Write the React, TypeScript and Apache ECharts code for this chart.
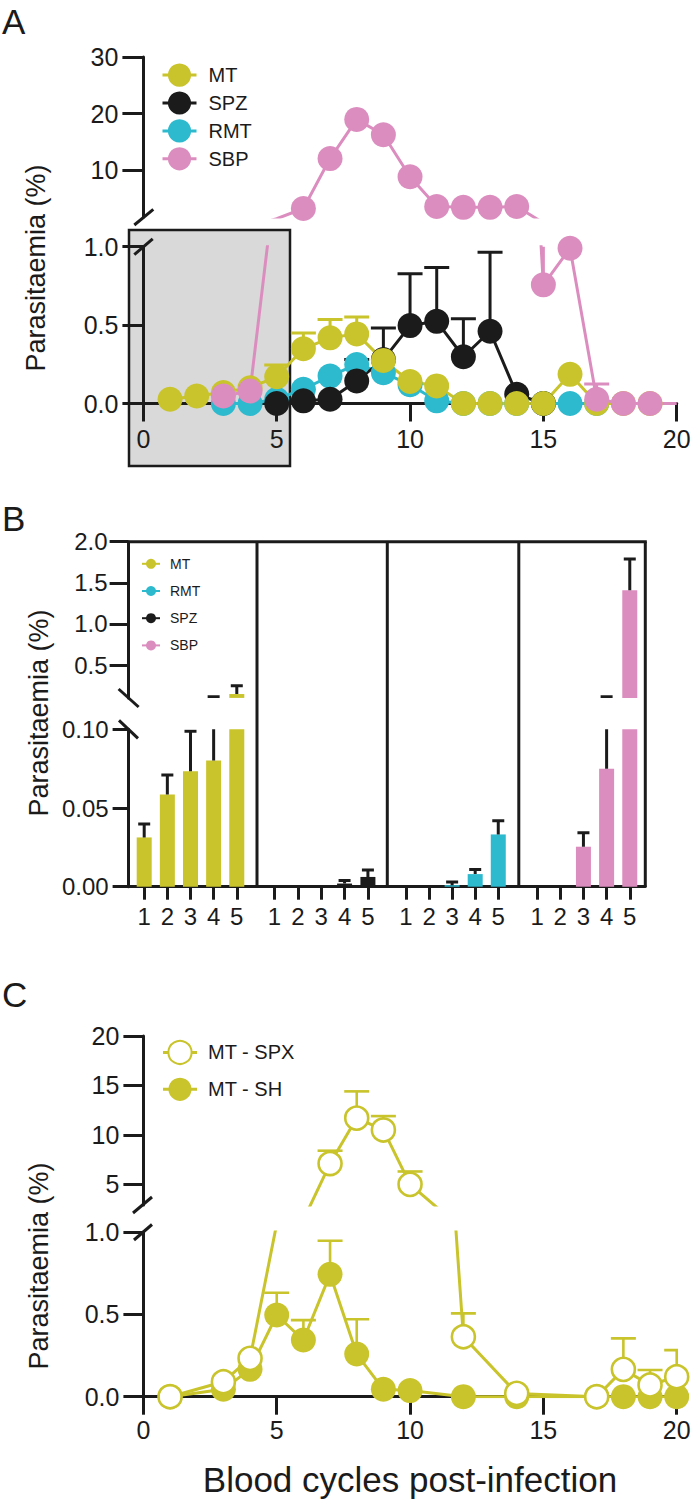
import React, { useEffect, useRef } from "react";
import * as echarts from "echarts";

// ---------------- Data ----------------
// Panel A: parasitaemia (%) per blood cycle post-infection
const A_DAYS = [1, 2, 3, 4, 5, 6, 7, 8, 9, 10, 11, 12, 13, 14, 15, 16, 17, 18, 19, 20];
const A_MT = [0.027, 0.048, 0.07, 0.1, 0.171, 0.349, 0.419, 0.444, 0.275, 0.14, 0.112, 0, 0, 0, 0, 0.186, 0, 0, 0, null];
const A_MT_UP = [null, null, null, null, 0.245, 0.45, 0.535, 0.552, null, null, null, null, null, null, null, null, null, null, null, null];
const A_SPZ = [null, null, null, null, 0, 0.017, 0.027, 0.144, 0.28, 0.497, 0.524, 0.298, 0.461, 0.059, 0, null, null, null, null, null];
const A_SPZ_UP = [null, null, null, null, null, null, null, 0.28, 0.482, 0.827, 0.867, 0.541, 0.964, null, null, null, null, null, null, null];
const A_RMT = [null, null, 0, 0, 0.027, 0.091, 0.175, 0.249, 0.196, 0.12, 0.017, 0, 0, 0, 0, 0, 0, null, null, null];
const A_RMT_UP = [null, null, null, null, null, null, null, null, null, null, null, null, null, null, null, null, null, null, null, null];
const A_SBP = [null, null, 0.048, 0.08, 1.5, 3.3, 12.1, 19.0, 16.3, 8.9, 3.65, 3.5, 3.5, 3.65, 0.757, 0.99, 0.027, 0, 0, 0];
const A_SBP_UP = [null, null, null, null, null, null, null, null, null, null, null, null, null, null, 1.4, null, 0.124, null, null, null];

// Panel B: parasitaemia (%) in blood cycles 1-5
const B_CYCLES = [1, 2, 3, 4, 5];
const B_MT = [0.0313, 0.0586, 0.0734, 0.0802, 0.147];
const B_MT_UP = [0.0398, 0.0709, 0.0988, 0.114, 0.248];
const B_SPZ = [0, 0, 0, 0.002, 0.0062];
const B_SPZ_UP = [null, null, null, 0.004, 0.0106];
const B_RMT = [0, 0, 0.001, 0.008, 0.0332];
const B_RMT_UP = [null, null, 0.003, 0.011, 0.0419];
const B_SBP = [0, 0, 0.0254, 0.075, 1.41];
const B_SBP_UP = [null, null, 0.0343, 0.114, 1.79];

// Panel C
const C_SPX_DAYS = [1, 3, 4, 5, 6, 7, 8, 9, 10, 12, 14, 17, 18, 19, 20];
const C_SPX = [0, 0.091, 0.233, 1.05, 1.4, 7.1, 11.7, 10.5, 5.0, 0.364, 0.02, 0, 0.166, 0.071, 0.121];
const C_SPX_UP = [null, null, null, null, null, 8.4, 14.4, 11.9, 6.3, 0.506, null, null, 0.354, 0.162, 0.283];
const C_SH_DAYS = [1, 3, 4, 5, 6, 7, 8, 9, 10, 12, 14, 17, 18, 19, 20];
const C_SH = [0, 0.045, 0.166, 0.496, 0.344, 0.743, 0.259, 0.045, 0.037, 0, 0, 0, 0, 0, 0];
const C_SH_UP = [null, null, null, 0.631, 0.465, 0.947, 0.47, null, null, null, null, null, null, null, null];

// Tick values
const A_TOP_TICKS = [10, 20, 30];
const A_BOT_TICKS = [0, 0.5, 1.0];
const A_X_TICKS = [0, 5, 10, 15, 20];
const B_TOP_TICKS = [0.5, 1.0, 1.5, 2.0];
const B_BOT_TICKS = [0, 0.05, 0.1];
const C_TOP_TICKS = [5, 10, 15, 20];
const C_BOT_TICKS = [0, 0.5, 1.0];
const C_X_TICKS = [0, 5, 10, 15, 20];

// ---------------- Style / layout ----------------
const FONT = "'Liberation Sans', Helvetica, Arial, sans-serif";
const NARROW = "'Liberation Sans Narrow', 'Liberation Sans', Arial, sans-serif";
const INK = "#1b1b1b";
const COL_MT = "#c9c42b";
const COL_SPZ = "#1b1b1b";
const COL_RMT = "#2db9ce";
const COL_SBP = "#dc8dbf";

const PX0 = 143.4;
const PX1 = 676.7;
const B_EDGES = [128.6, 257, 387.3, 518.8, 645.3];
const B_XRANGE = [[0.326, 5.873], [0.25, 5.83], [0.19, 5.89], [0.21, 5.67]];

function pairs(xs: number[], ys: (number | null)[]) {
  const out: any[] = [];
  xs.forEach((x, i) => {
    const y = ys[i];
    if (y !== null && y !== undefined) out.push([x, y]);
  });
  return out;
}
function triples(xs: number[], ys: (number | null)[], ups: (number | null)[], minUp = -Infinity) {
  const out: any[] = [];
  xs.forEach((x, i) => {
    const y = ys[i];
    const u = ups[i];
    if (y !== null && y !== undefined && u !== null && u !== undefined && u >= minUp) out.push([x, y, u]);
  });
  return out;
}

function errSeries(gi: number, data: any[], color: string, cap: number, lw: number, z: number) {
  return {
    type: "custom",
    xAxisIndex: gi,
    yAxisIndex: gi,
    clip: true,
    silent: true,
    z,
    data,
    encode: { x: 0, y: [1, 2] },
    renderItem: (_p: any, api: any) => {
      const x = api.value(0);
      const v = api.value(1);
      const u = api.value(2);
      const p0 = api.coord([x, v]);
      const p1 = api.coord([x, u]);
      return {
        type: "group",
        children: [
          { type: "line", shape: { x1: p0[0], y1: p0[1], x2: p1[0], y2: p1[1] }, style: { stroke: color, lineWidth: lw } },
          { type: "line", shape: { x1: p1[0] - cap / 2, y1: p1[1], x2: p1[0] + cap / 2, y2: p1[1] }, style: { stroke: color, lineWidth: lw } },
        ],
      };
    },
  };
}

function lineSeries(name: string, gi: number, data: any[], color: string, extra: any = {}) {
  return {
    type: "line",
    name,
    xAxisIndex: gi,
    yAxisIndex: gi,
    data,
    symbol: "circle",
    symbolSize: 25,
    showAllSymbol: true,
    clip: true,
    z: 3,
    silent: true,
    itemStyle: { color },
    lineStyle: { color, width: 3 },
    emphasis: { disabled: true },
    ...extra,
  };
}

const lbl = (size: number) => ({ fontSize: size, fontFamily: FONT, color: INK });

function yAxisVis(gi: number, min: number, max: number, ticks: number[], digits: number, size: number, margin: number, tickLen: number) {
  return {
    type: "value",
    gridIndex: gi,
    min,
    max,
    axisLine: { show: true, onZero: false, lineStyle: { color: INK, width: 3 } },
    axisTick: { show: true, length: tickLen, customValues: ticks, lineStyle: { color: INK, width: 3 } },
    axisLabel: { show: true, customValues: ticks, margin, formatter: (v: number) => Number(v).toFixed(digits), ...lbl(size) },
    splitLine: { show: false },
  };
}
function xAxisVis(gi: number, min: number, max: number, ticks: number[], size: number, margin: number, tickLen: number) {
  return {
    type: "value",
    gridIndex: gi,
    min,
    max,
    axisLine: { show: true, onZero: false, lineStyle: { color: INK, width: 3 } },
    axisTick: { show: true, length: tickLen, customValues: ticks, lineStyle: { color: INK, width: 3 } },
    axisLabel: { show: true, customValues: ticks, margin, formatter: (v: number) => String(Math.round(v)), ...lbl(size) },
    splitLine: { show: false },
  };
}
function axisHidden(gi: number, min: number, max: number) {
  return { type: "value", gridIndex: gi, min, max, show: false, splitLine: { show: false } };
}

function buildOption() {
  const grid: any[] = [];
  const xAxis: any[] = [];
  const yAxis: any[] = [];
  const series: any[] = [];
  const g = (left: number, top: number, width: number, height: number) => ({ left, top, width, height, containLabel: false, outerBoundsMode: "none" });

  const A_TOP_MIN = 1.8;
  const B_TOP_MIN = 0.1;
  const C_TOP_MIN = 2.9;

  // ---- Panel A grids (0 top, 1 bottom)
  grid.push(g(PX0, 57, PX1 - PX0, 160));
  xAxis.push(axisHidden(0, 0, 20));
  yAxis.push(yAxisVis(0, A_TOP_MIN, 30, A_TOP_TICKS, 0, 25, 25, 21));
  grid.push(g(PX0, 246.7, PX1 - PX0, 156.8));
  xAxis.push(xAxisVis(1, 0, 20, A_X_TICKS, 25, 22.5, 18));
  yAxis.push(yAxisVis(1, 0, 1, A_BOT_TICKS, 1, 25, 25, 21));

  // ---- Panel B grids (2-5 top, 6-9 bottom)
  for (let i = 0; i < 4; i++) {
    grid.push(g(B_EDGES[i], 541.7, B_EDGES[i + 1] - B_EDGES[i], 156.2));
    xAxis.push(axisHidden(2 + i, B_XRANGE[i][0], B_XRANGE[i][1]));
    yAxis.push(i === 0 ? yAxisVis(2, B_TOP_MIN, 2.0, B_TOP_TICKS, 1, 24, 21, 19) : axisHidden(2 + i, B_TOP_MIN, 2.0));
  }
  for (let i = 0; i < 4; i++) {
    grid.push(g(B_EDGES[i], 729.3, B_EDGES[i + 1] - B_EDGES[i], 157.4));
    xAxis.push(xAxisVis(6 + i, B_XRANGE[i][0], B_XRANGE[i][1], B_CYCLES, 24, 18, 13));
    yAxis.push(i === 0 ? yAxisVis(6, 0, 0.1, B_BOT_TICKS, 2, 24, 20, 16) : axisHidden(6 + i, 0, 0.1));
  }

  // ---- Panel C grids (10 top, 11 bottom)
  grid.push(g(PX0, 1036, PX1 - PX0, 169.1));
  xAxis.push(axisHidden(10, 0, 20));
  yAxis.push(yAxisVis(10, C_TOP_MIN, 20, C_TOP_TICKS, 0, 25, 24, 20));
  grid.push(g(PX0, 1232, PX1 - PX0, 164.7));
  xAxis.push(xAxisVis(11, 0, 20, C_X_TICKS, 25, 21, 18));
  yAxis.push(yAxisVis(11, 0, 1, C_BOT_TICKS, 1, 25, 24, 20));

  // ---- Panel A series (draw order RMT, SPZ, MT, SBP)
  const aSets = [
    { name: "RMT", v: A_RMT, up: A_RMT_UP, c: COL_RMT },
    { name: "SPZ", v: A_SPZ, up: A_SPZ_UP, c: COL_SPZ },
    { name: "MT", v: A_MT, up: A_MT_UP, c: COL_MT },
    { name: "SBP", v: A_SBP, up: A_SBP_UP, c: COL_SBP },
  ];
  for (const gi of [0, 1]) {
    for (const s of aSets) {
      let data = pairs(A_DAYS, s.v);
      if (s.name === "SBP") {
        data = data.map((d: number[]) => (d[0] === 20 ? { value: d, symbol: "none" } : d));
      }
      series.push(lineSeries(s.name, gi, data, s.c));
    }
  }
  for (const gi of [0, 1]) {
    for (const s of aSets) {
      const e = triples(A_DAYS, s.v, s.up, gi === 0 ? A_TOP_MIN : -Infinity);
      if (e.length) series.push(errSeries(gi, e, s.c, 25, 3, 2));
    }
  }

  // ---- Panel C series
  for (const gi of [10, 11]) {
    const minUp = gi === 10 ? C_TOP_MIN : -Infinity;
    series.push(lineSeries("MT - SH", gi, pairs(C_SH_DAYS, C_SH), COL_MT));
    series.push(
      lineSeries("MT - SPX", gi, pairs(C_SPX_DAYS, C_SPX), COL_MT, {
        symbolSize: 23,
        itemStyle: { color: "#ffffff", borderColor: COL_MT, borderWidth: 2.6 },
        lineStyle: { color: COL_MT, width: 3 },
      })
    );
    const e1 = triples(C_SH_DAYS, C_SH, C_SH_UP, minUp);
    if (e1.length) series.push(errSeries(gi, e1, COL_MT, 25, 2.6, 2));
    const e2 = triples(C_SPX_DAYS, C_SPX, C_SPX_UP, minUp);
    if (e2.length) series.push(errSeries(gi, e2, COL_MT, 25, 2.6, 2));
  }

  // ---- Panel B series
  const bSets = [
    { name: "MT", v: B_MT, up: B_MT_UP, c: COL_MT },
    { name: "SPZ", v: B_SPZ, up: B_SPZ_UP, c: COL_SPZ },
    { name: "RMT", v: B_RMT, up: B_RMT_UP, c: COL_RMT },
    { name: "SBP", v: B_SBP, up: B_SBP_UP, c: COL_SBP },
  ];
  bSets.forEach((s, i) => {
    for (const gi of [2 + i, 6 + i]) {
      series.push({
        type: "bar",
        name: s.name + " (cycles 1-5)",
        xAxisIndex: gi,
        yAxisIndex: gi,
        data: pairs(B_CYCLES, s.v),
        barWidth: 15,
        clip: true,
        silent: true,
        z: 2,
        itemStyle: { color: s.c },
        emphasis: { disabled: true },
      });
      const e = triples(B_CYCLES, s.v, s.up, gi < 6 ? B_TOP_MIN : -Infinity);
      if (e.length) series.push(errSeries(gi, e, INK, 12, 3, 3));
    }
  });

  // ---- Graphics: panel letters, axis titles, frame, breaks, shaded box
  const txt = (text: string, x: number, y: number, size: number, rot = 0, align = "center") => ({
    type: "text",
    x,
    y,
    rotation: rot,
    silent: true,
    style: { text, fontSize: size, fontFamily: FONT, fill: INK, align, verticalAlign: "middle" },
  });
  const seg = (x1: number, y1: number, x2: number, y2: number, w = 3) => ({
    type: "line",
    silent: true,
    z: 10,
    shape: { x1, y1, x2, y2 },
    style: { stroke: INK, lineWidth: w },
  });
  const graphic: any[] = [
    { type: "rect", silent: true, z: -10, shape: { x: 129, y: 230, width: 161, height: 236 }, style: { fill: "#d9d9d9", stroke: INK, lineWidth: 2.5 } },
    txt("A", 2, 21.5, 35, 0, "left"),
    txt("B", 2, 518, 35, 0, "left"),
    txt("C", 2, 994, 35, 0, "left"),
    txt("Parasitaemia (%)", 36, 268, 27, Math.PI / 2),
    txt("Parasitaemia (%)", 39, 713, 27, Math.PI / 2),
    txt("Parasitaemia (%)", 39, 1266, 27, Math.PI / 2),
    txt("Blood cycles post-infection", 410, 1479, 35),
    // break marks
    seg(134.3, 225, 153.3, 209.3),
    seg(134.3, 254.6, 152.7, 238.8),
    seg(118.6, 689, 138.6, 707),
    seg(119, 720.3, 138, 738.3),
    seg(133, 1213, 152, 1197),
    seg(134, 1240, 152, 1224.5),
    // panel B frame
    seg(B_EDGES[0], 541.7, B_EDGES[4] + 1.5, 541.7),
    seg(B_EDGES[1], 541.7, B_EDGES[1], 886.7),
    seg(B_EDGES[2], 541.7, B_EDGES[2], 886.7),
    seg(B_EDGES[3], 541.7, B_EDGES[3], 886.7),
    seg(B_EDGES[4], 541.7, B_EDGES[4], 886.7),
  ];

  const legend = [
    {
      data: ["MT", "SPZ", "RMT", "SBP"],
      orient: "vertical",
      left: 161,
      top: 63.5,
      padding: 0,
      itemWidth: 34,
      itemHeight: 29,
      itemGap: 4.7,
      selectedMode: false,
      lineStyle: { width: 3 },
      textStyle: { fontSize: 20, fontFamily: FONT, color: INK, padding: [0, 0, 0, 7] },
    },
    {
      data: ["MT", "RMT", "SPZ", "SBP"],
      orient: "vertical",
      left: 141,
      top: 556.8,
      padding: 0,
      itemWidth: 18,
      itemHeight: 12.5,
      itemGap: 13.2,
      selectedMode: false,
      lineStyle: { width: 2 },
      textStyle: { fontSize: 14, fontFamily: NARROW, color: INK, padding: [0, 0, 0, 5] },
    },
    {
      data: ["MT - SPX", "MT - SH"],
      orient: "vertical",
      left: 161.5,
      top: 1039.8,
      padding: 0,
      itemWidth: 34,
      itemHeight: 29,
      itemGap: 12.7,
      selectedMode: false,
      lineStyle: { width: 3 },
      textStyle: { fontSize: 20, fontFamily: FONT, color: INK, padding: [0, 0, 0, 6] },
    },
  ];

  return {
    animation: false,
    backgroundColor: "#ffffff",
    textStyle: { fontFamily: FONT },
    grid,
    xAxis,
    yAxis,
    legend,
    series,
    graphic,
  };
}

export default function App() {
  const ref = useRef<HTMLDivElement>(null);
  useEffect(() => {
    document.body.style.margin = "0";
    const el = ref.current as HTMLDivElement;
    const chart = echarts.init(el, null, { renderer: "svg" });
    chart.setOption(buildOption() as any);
    return () => {
      chart.dispose();
    };
  }, []);
  return <div ref={ref} style={{ position: "absolute", left: 0, top: 0, width: 691, height: 1502, background: "#fff" }} />;
}
